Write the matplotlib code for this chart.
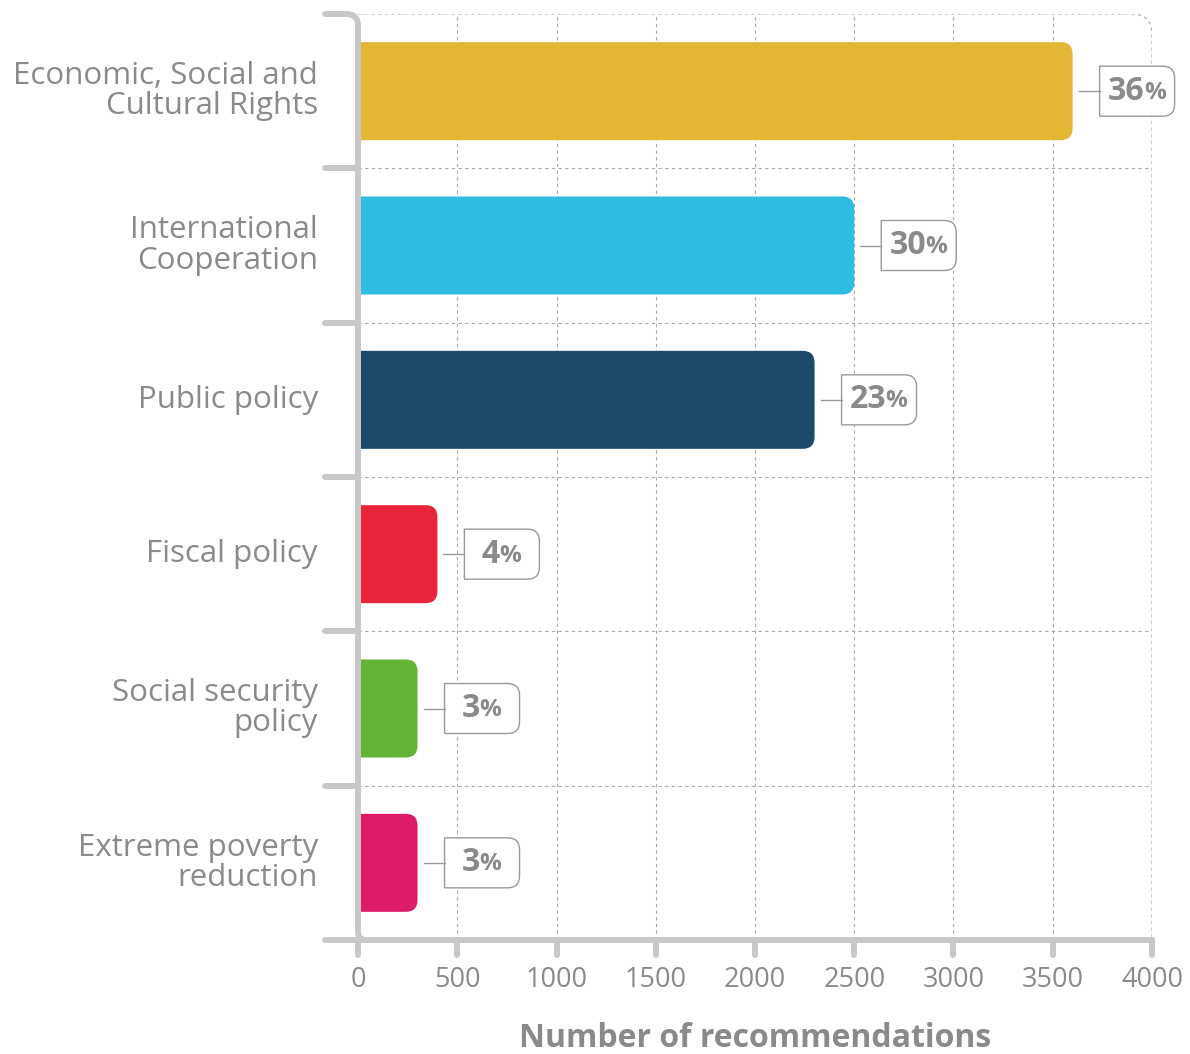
import matplotlib.pyplot as plt
import matplotlib.transforms as mtransforms
from matplotlib.path import Path
from matplotlib.patches import PathPatch

plt.rcParams['font.family'] = ['Open Sans', 'DejaVu Sans']

# data
categories = [
    "Economic, Social and\nCultural Rights",
    "International\nCooperation",
    "Public policy",
    "Fiscal policy",
    "Social security\npolicy",
    "Extreme poverty\nreduction",
]
values = [3600, 2500, 2300, 400, 300, 300]
shares = ["36", "30", "23", "4", "3", "3"]
colors = ["#E3B634", "#2EBCE1", "#1D4A6A", "#E8253A", "#63B336", "#DE1A6B"]
xticks = [0, 500, 1000, 1500, 2000, 2500, 3000, 3500, 4000]

GRAY = "#8a8a8a"
SPINE = "#c8c8c8"
GRID = "#a8a8a8"

W, H = 1190, 1054
fig = plt.figure(figsize=(W / 100, H / 100), dpi=100)
left, right, top, bottom = 358, 1152, 14, 940
ax = fig.add_axes([left / W, 1 - bottom / H, (right - left) / W, (bottom - top) / H])
n = len(categories)
ax.set_xlim(0, 4000)
ax.set_ylim(n - 0.5, -0.5)
for s in ax.spines.values():
    s.set_visible(False)

# data units per pixel
dx = 4000 / (right - left)
dy = n / (bottom - top)

ax.set_yticks([])
ax.set_xticks(xticks, [str(t) for t in xticks])
ax.tick_params(axis="x", length=0, pad=19, labelsize=19.5, labelcolor=GRAY)
ax.set_xlabel("Number of recommendations", fontsize=23, fontweight="bold",
              color=GRAY, labelpad=20)

# dashed grid
dash = dict(color=GRID, lw=0.8, ls=(0, (3, 3)), zorder=1)
for x in xticks[1:-1]:
    ax.plot([x, x], [n - 0.5, -0.5], **dash)
for k in range(1, n):
    ax.plot([0, 4000], [k - 0.5, k - 0.5], **dash)
r = 20
border = Path([(0, -0.5), (4000 - r * dx, -0.5), (4000, -0.5), (4000, -0.5 + r * dy),
               (4000, n - 0.5)],
              [Path.MOVETO, Path.LINETO, Path.CURVE3, Path.CURVE3, Path.LINETO])
ax.add_patch(PathPatch(border, fill=False, ec=GRID, lw=0.8, ls=(0, (3, 3)), zorder=1))

# bars with rounded right ends
bh = 0.635
rb = 12
for i, (v, c) in enumerate(zip(values, colors)):
    y0, y1 = i - bh / 2, i + bh / 2
    p = Path([(0, y0), (v - rb * dx, y0), (v, y0), (v, y0 + rb * dy),
              (v, y1 - rb * dy), (v, y1), (v - rb * dx, y1), (0, y1), (0, y0)],
             [Path.MOVETO, Path.LINETO, Path.CURVE3, Path.CURVE3,
              Path.LINETO, Path.CURVE3, Path.CURVE3, Path.LINETO, Path.CLOSEPOLY])
    ax.add_patch(PathPatch(p, fc=c, ec="none", zorder=2))

# custom spines
sp = dict(color=SPINE, lw=4.3, solid_capstyle="round", clip_on=False, zorder=5)
rs = 12
spine_path = Path([(-33 * dx, -0.5), (-rs * dx, -0.5), (0, -0.5), (0, -0.5 + rs * dy),
                   (0, n - 0.5 - 8 * dy), (0, n - 0.5), (8 * dx, n - 0.5)],
                  [Path.MOVETO, Path.LINETO, Path.CURVE3, Path.CURVE3, Path.LINETO,
                   Path.CURVE3, Path.CURVE3])
ax.add_patch(PathPatch(spine_path, fill=False, ec=SPINE, lw=4.3, capstyle="round",
                       clip_on=False, zorder=5))
for k in range(1, n):
    ax.plot([-33 * dx, 0], [k - 0.5, k - 0.5], **sp)
ax.plot([-33 * dx, 4000], [n - 0.5, n - 0.5], **sp)
for x in xticks:
    ax.plot([x, x], [n - 0.5, n - 0.5 + 15 * dy], **sp)

# category labels
for i, cat in enumerate(categories):
    ax.text(-40 * dx, i, cat, ha="right", va="center", fontsize=22.5, color=GRAY,
            linespacing=1.0, multialignment="right")

# percentage boxes
px = mtransforms.Affine2D().scale(1 / fig.dpi) + fig.dpi_scale_trans
L, R, hh, rr = 27, 102, 25, 12
box = Path([(L, -hh), (R - rr, -hh), (R, -hh), (R, -hh + rr), (R, hh - rr), (R, hh),
            (R - rr, hh), (L, hh), (L, -hh)],
           [Path.MOVETO, Path.LINETO, Path.CURVE3, Path.CURVE3, Path.LINETO,
            Path.CURVE3, Path.CURVE3, Path.LINETO, Path.CLOSEPOLY])
labels = []
for i, (v, s) in enumerate(zip(values, shares)):
    tr = px + mtransforms.ScaledTranslation(v, i, ax.transData)
    ax.add_patch(PathPatch(box, fc="white", ec="#999999", lw=1.0, transform=tr,
                           clip_on=False, zorder=4))
    ax.plot([6, L], [0, 0], color="#999999", lw=1.0, transform=tr, clip_on=False, zorder=4)
    t1 = ax.annotate(s, xy=(v, i), xytext=((L + R) / 2 * 0.72, 0), textcoords="offset points",
                     ha="center", va="center", fontsize=23, fontweight="bold", color=GRAY,
                     zorder=6)
    t2 = ax.annotate("%", xy=(1.0, 0.82), xycoords=t1, xytext=(-0.5, 0),
                     textcoords="offset points", ha="left", va="top", fontsize=17.5,
                     fontweight="bold", color=GRAY, zorder=6)
    labels.append((t1, t2))

fig.canvas.draw()
for t1, t2 in labels:
    w2 = t2.get_window_extent().width
    x, y = t1.xyann
    t1.xyann = (x - w2 / 2 * 72 / fig.dpi, y)

fig.savefig("out.png", dpi=100)
